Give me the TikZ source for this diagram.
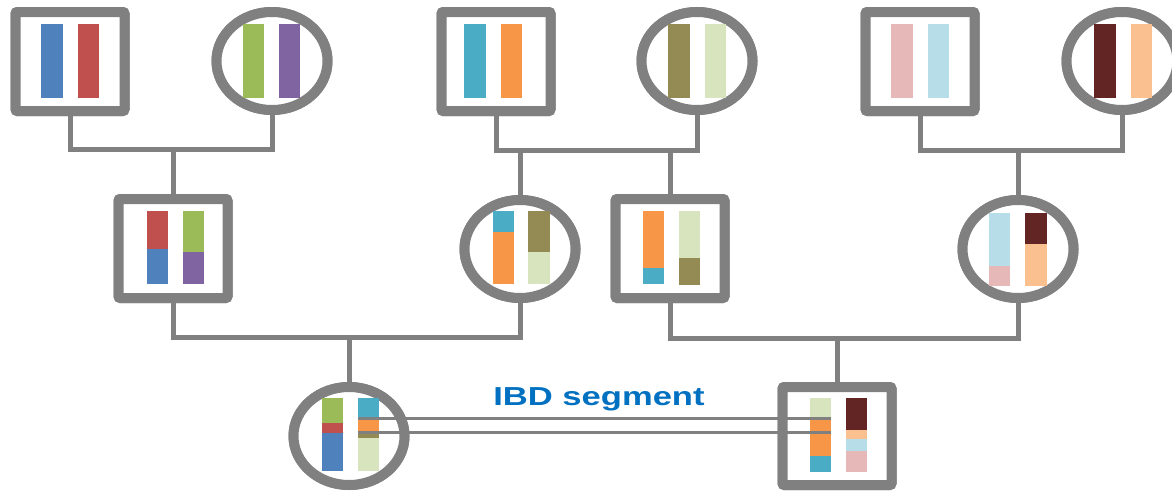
\documentclass[tikz,border=0pt]{standalone}
\usepackage{fontspec}
\setmainfont{Liberation Sans}
\usetikzlibrary{shapes.geometric}

% chromosome colours
\definecolor{linegrey}{HTML}{808080}
\definecolor{ibdblue}{HTML}{0070C0}
\definecolor{cBlue}{HTML}{4F81BD}
\definecolor{cRed}{HTML}{C0504D}
\definecolor{cGreen}{HTML}{9BBB59}
\definecolor{cPurple}{HTML}{8064A2}
\definecolor{cCyan}{HTML}{4BACC6}
\definecolor{cOrange}{HTML}{F79646}
\definecolor{cOlive}{HTML}{948A54}
\definecolor{cLightGreen}{HTML}{D7E4BD}
\definecolor{cPink}{HTML}{E6B9B8}
\definecolor{cLightBlue}{HTML}{B7DEE8}
\definecolor{cDarkRed}{HTML}{632523}
\definecolor{cPeach}{HTML}{FAC090}

% one coloured stretch of a chromosome: x1, x2, y1, y2, colour
\newcommand\chromseg[5]{\fill[#5] (#1,#3) rectangle (#2,#4);}

\tikzset{
  male/.style={rectangle, draw=linegrey, line width=10pt, fill=white,
    rounded corners=2pt, minimum width=109pt, minimum height=99pt, inner sep=0pt},
  female/.style={ellipse, draw=linegrey, line width=10pt, fill=white,
    minimum width=111pt, minimum height=98pt, inner sep=0pt},
  link/.style={draw=linegrey, line width=5pt},
  ibdline/.style={draw=linegrey, line width=3pt},
}

\begin{document}
\begin{tikzpicture}[x=1pt,y=-1pt]
\useasboundingbox (0,0) rectangle (1172,491);
\clip (0,0) rectangle (1172,491);

% ---- junction points of the family lines
\coordinate (j1) at (173,149);
\coordinate (j2a) at (520,150);
\coordinate (j2b) at (670,150);
\coordinate (j3) at (1018,150);
\coordinate (j4) at (349,337);
\coordinate (j5) at (837,338);

% ---- grandparents
\node[male]   (s1) at (70,61.5) {};
\node[female] (c1) at (272,61) {};
\node[male]   (s2) at (496,61.5) {};
\node[female] (c2) at (697,61) {};
\node[male]   (s3) at (920,61.5) {};
\node[female] (c3) at (1122,61) {};

% ---- parents
\node[male]   (m1) at (173,248.5) {};
\node[female] (m2) at (520,249) {};
\node[male]   (m3) at (670,248.5) {};
\node[female] (m4) at (1018,249) {};

% ---- cousins
\node[female] (b1) at (349,436) {};
\node[male, minimum height=98pt] (b2) at (837,436) {};

% ---- family lines
\path[link] (s1) |- (j1) -| (c1);
\path[link] (j1) -- (m1);
\path[link] (s2) |- (j2a) -- (j2b) -| (c2);
\path[link] (j2a) -- (m2);
\path[link] (j2b) -- (m3);
\path[link] (s3) |- (j3) -| (c3);
\path[link] (j3) -- (m4);
\path[link] (m1) |- (j4) -| (m2);
\path[link] (j4) -- (b1);
\path[link] (m3) |- (j5) -| (m4);
\path[link] (j5) -- (b2);

% redraw the nodes over the line ends
\node[male]   at (s1) {};
\node[female] at (c1) {};
\node[male]   at (s2) {};
\node[female] at (c2) {};
\node[male]   at (s3) {};
\node[female] at (c3) {};
\node[male]   at (m1) {};
\node[female] at (m2) {};
\node[male]   at (m3) {};
\node[female] at (m4) {};
\node[female] at (b1) {};
\node[male, minimum height=98pt] at (b2) {};

% ---- chromosomes, grandparents
\chromseg{41}{63}{24}{98}{cBlue}
\chromseg{78}{99}{24}{98}{cRed}
\chromseg{243}{264}{24}{98}{cGreen}
\chromseg{279}{300}{24}{98}{cPurple}
\chromseg{464}{486}{24}{98}{cCyan}
\chromseg{501}{522}{24}{98}{cOrange}
\chromseg{668}{690}{24}{98}{cOlive}
\chromseg{705}{726}{24}{98}{cLightGreen}
\chromseg{891}{913}{24}{98}{cPink}
\chromseg{928}{949}{24}{98}{cLightBlue}
\chromseg{1094}{1116}{24}{98}{cDarkRed}
\chromseg{1131}{1152}{24}{98}{cPeach}

% ---- chromosomes, parents
\chromseg{147}{168}{211}{249}{cRed}
\chromseg{147}{168}{249}{284}{cBlue}
\chromseg{183}{204}{211}{252}{cGreen}
\chromseg{183}{204}{252}{284}{cPurple}

\chromseg{493}{514}{211}{232}{cCyan}
\chromseg{493}{514}{232}{284}{cOrange}
\chromseg{528}{550}{211}{252}{cOlive}
\chromseg{528}{550}{252}{284}{cLightGreen}

\chromseg{643}{664}{211}{268}{cOrange}
\chromseg{643}{664}{268}{284}{cCyan}
\chromseg{679}{700}{211}{258}{cLightGreen}
\chromseg{679}{700}{258}{285}{cOlive}

\chromseg{989}{1010}{213}{266}{cLightBlue}
\chromseg{989}{1010}{266}{286}{cPink}
\chromseg{1025}{1047}{213}{244}{cDarkRed}
\chromseg{1025}{1047}{244}{286}{cPeach}

% ---- chromosomes, cousins
\chromseg{322}{343}{398}{423}{cGreen}
\chromseg{322}{343}{423}{433}{cRed}
\chromseg{322}{343}{433}{471}{cBlue}
\chromseg{358}{379}{398}{419}{cCyan}
\chromseg{358}{379}{419}{432}{cOrange}
\chromseg{358}{379}{432}{438}{cOlive}
\chromseg{358}{379}{438}{471}{cLightGreen}

\chromseg{810}{831}{398}{419}{cLightGreen}
\chromseg{810}{831}{419}{456}{cOrange}
\chromseg{810}{831}{456}{472}{cCyan}
\chromseg{846}{867}{398}{430}{cDarkRed}
\chromseg{846}{867}{430}{439}{cPeach}
\chromseg{846}{867}{439}{451}{cLightBlue}
\chromseg{846}{867}{451}{472}{cPink}

% ---- shared segment
\coordinate (ibdA1) at (358,418);
\coordinate (ibdB1) at (831,418);
\coordinate (ibdA2) at (358,432);
\coordinate (ibdB2) at (831,432);
\path[ibdline] (ibdA1) -- (ibdB1);
\path[ibdline] (ibdA2) -- (ibdB2);

\node[anchor=base, inner sep=0pt, text=ibdblue,
      font=\fontsize{26}{30}\selectfont\bfseries] (ibd) at (599,405.5)
  {\scalebox{1.33}[1]{IBD segment}};
\end{tikzpicture}
\end{document}
